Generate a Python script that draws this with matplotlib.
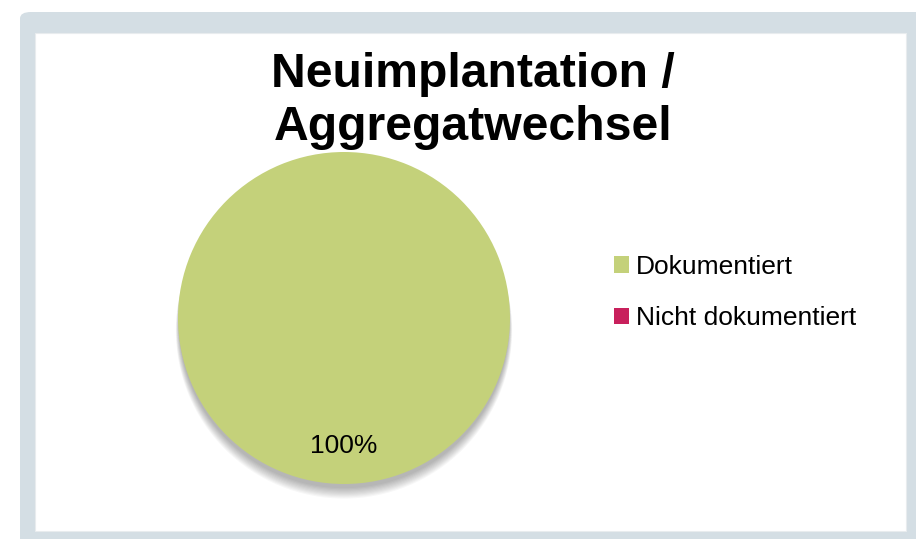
import matplotlib
matplotlib.use("Agg")
import matplotlib.pyplot as plt
from matplotlib.patches import FancyBboxPatch, Rectangle, Circle, Patch

plt.rcParams["font.family"] = ["Liberation Sans", "DejaVu Sans"]

# ===== Daten =====
categories = ["Dokumentiert", "Nicht dokumentiert"]
values = [100, 0]
colors = ["#C4D17A", "#C8205C"]
title = "Neuimplantation /\nAggregatwechsel"

W, H = 916, 539
fig = plt.figure(figsize=(W / 100, H / 100), dpi=100)
fig.patch.set_facecolor("white")

# Rahmen (grau) + weisse Flaeche
frame = FancyBboxPatch((20 / W, -0.05), 1.05, (H - 12) / H + 0.05,
                       boxstyle="round,pad=0,rounding_size=0.012",
                       transform=fig.transFigure, facecolor="#D4DEE4",
                       edgecolor="none", zorder=0)
fig.patches.append(frame)
inner = Rectangle((35 / W, (H - 531) / H), (906 - 35) / W, (531 - 33) / H,
                  transform=fig.transFigure, facecolor="white",
                  edgecolor="#E8ECEE", linewidth=0.8, zorder=1)
fig.patches.append(inner)

# Kreisdiagramm
cx, cy, r = 344, H - 318, 166
ax = fig.add_axes([(cx - r) / W, (cy - r) / H, 2 * r / W, 2 * r / H])
ax.set_zorder(2)
ax.patch.set_alpha(0)

# Schatten (weich, nach unten)
for i in range(10):
    ax.add_patch(Circle((0, -0.03 - 0.005 * i), 0.995 + 0.002 * i,
                        facecolor="black", alpha=0.03, edgecolor="none",
                        zorder=0, clip_on=False))

wedges, texts, autotexts = ax.pie(
    values, colors=colors, startangle=90, counterclock=False,
    autopct=lambda p: f"{p:.0f}%" if p > 0 else "",
    pctdistance=0.77, textprops={"fontsize": 19, "color": "black"},
    wedgeprops={"linewidth": 0})
for w in wedges:
    w.set_zorder(1)
ax.set_xlim(-1, 1)
ax.set_ylim(-1, 1)
ax.set_aspect("equal")
ax.axis("off")

fig.text(473 / W, 1 - 101 / H, title, ha="center", va="center",
         fontsize=34.7, fontweight="bold", linespacing=1.22, zorder=3)

handles = [Patch(facecolor=c, edgecolor="none") for c in colors]
leg = fig.legend(handles, categories, loc="upper left",
                 bbox_to_anchor=(603 / W, 1 - 244 / H), frameon=False,
                 fontsize=19, handlelength=0.6, handleheight=0.6,
                 handletextpad=0.25, labelspacing=1.05, borderaxespad=0)

fig.savefig("out.png", dpi=100)
